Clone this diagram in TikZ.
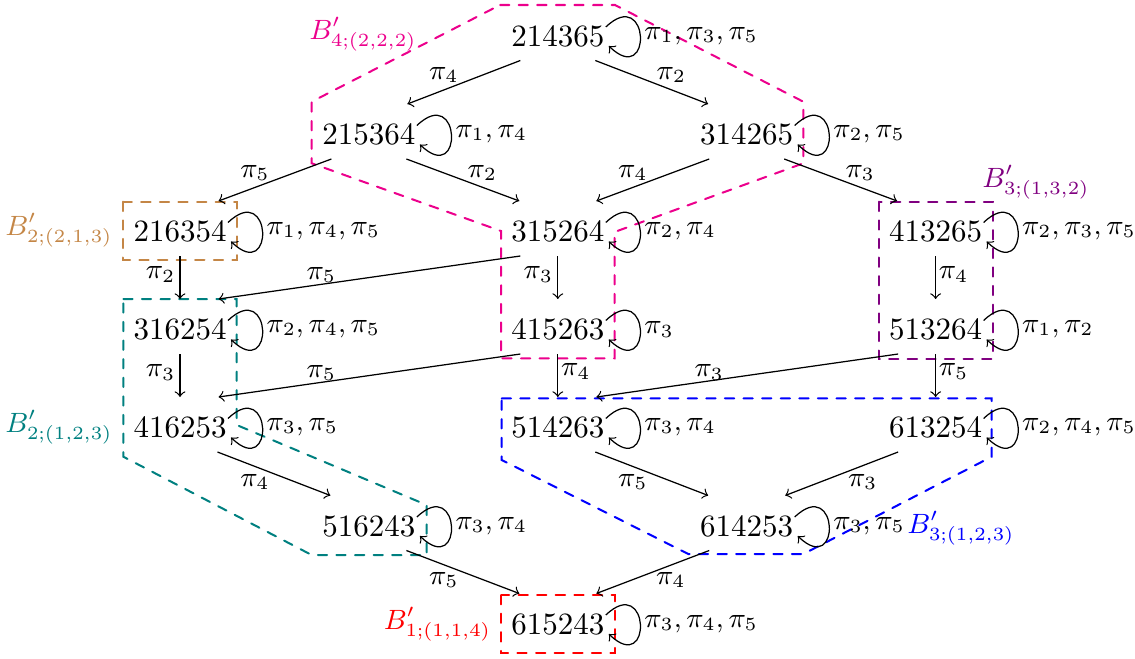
\documentclass[tikz,border=0pt]{standalone}
\definecolor{pinkc}{RGB}{236,0,140}
\definecolor{brownc}{RGB}{196,134,70}
\definecolor{tealc}{RGB}{0,128,128}
\definecolor{violetc}{RGB}{128,0,128}
\definecolor{bluec}{RGB}{0,0,255}
\definecolor{redc}{RGB}{255,0,0}
\newcommand\permloop[2]{%
  \draw[loopc] ([shift={(48,-9)}]#1.center) .. controls +(44,-42) and +(44,42) .. ([shift={(51,10)}]#1.center);
  \node[looplab] (#1lab) at ([shift={(86,0)}]#1.center) {$#2$};}
\begin{document}
\begin{tikzpicture}[x=0.3226pt,y=-0.3226pt,
  perm/.style={inner sep=0pt},
  arr/.style={->},
  loopc/.style={->},
  lbl/.style={font=\small, inner sep=0pt},
  looplab/.style={font=\small, inner sep=0pt, anchor=west},
  blk/.style={dashed, line width=0.65pt, line cap=round},
  blab/.style={inner sep=0pt, font=\small}]
\useasboundingbox (0,0) rectangle (1135,658);

% blocks
\draw[blk, pinkc] (500,5) -- (615,5) -- (803.3,101.7) -- (803.3,163.3) -- (614.5,232) -- (614.5,358.3) -- (501,358.3) -- (501,231) -- (311.7,163.3) -- (311.7,101.7) -- cycle;
\draw[blk, brownc] (123.3,201.7) rectangle (236.7,260);
\draw[blk, tealc] (123.3,299) -- (236.7,299) -- (236.7,425) -- (426.7,505) -- (426.7,555) -- (311.7,555) -- (123.3,456.7) -- cycle;
\draw[blk, violetc] (879,201.7) rectangle (992.7,359);
\draw[blk, bluec] (501.7,398.3) -- (991.7,398.3) -- (991.7,456.7) -- (803.3,554) -- (688.3,554) -- (501.7,460) -- cycle;
\draw[blk, redc] (501,595) rectangle (614.5,653);

\node[blab, text=pinkc] (bA) at (363,34) {$B'_{4;(2,2,2)}$};
\node[blab, text=brownc] (bD) at (59,230) {$B'_{2;(2,1,3)}$};
\node[blab, text=tealc] (bJ) at (59,427) {$B'_{2;(1,2,3)}$};
\node[blab, text=violetc] (bF) at (1036,182) {$B'_{3;(1,3,2)}$};
\node[blab, text=bluec] (bN) at (961,528) {$B'_{3;(1,2,3)}$};
\node[blab, text=redc] (bO) at (437.5,624) {$B'_{1;(1,1,4)}$};

% permutations
\node[perm] (A) at (557.8,36) {214365};
\node[perm] (B) at (368.9,134.5) {215364};
\node[perm] (C) at (746.7,134.5) {314265};
\node[perm] (D) at (180,231.5) {216354};
\node[perm] (E) at (557.8,231.5) {315264};
\node[perm] (F) at (935.6,231.5) {413265};
\node[perm] (G) at (180,329.5) {316254};
\node[perm] (H) at (557.8,329.5) {415263};
\node[perm] (I) at (935.6,329.5) {513264};
\node[perm] (J) at (180,427.5) {416253};
\node[perm] (K) at (557.8,427.5) {514263};
\node[perm] (L) at (935.6,427.5) {613254};
\node[perm] (M) at (368.9,526) {516243};
\node[perm] (N) at (746.7,526) {614253};
\node[perm] (O) at (557.8,624) {615243};

% loops
\permloop{A}{\pi_1,\pi_3,\pi_5}
\permloop{B}{\pi_1,\pi_4}
\permloop{C}{\pi_2,\pi_5}
\permloop{D}{\pi_1,\pi_4,\pi_5}
\permloop{E}{\pi_2,\pi_4}
\permloop{F}{\pi_2,\pi_3,\pi_5}
\permloop{G}{\pi_2,\pi_4,\pi_5}
\permloop{H}{\pi_3}
\permloop{I}{\pi_1,\pi_2}
\permloop{J}{\pi_3,\pi_5}
\permloop{K}{\pi_3,\pi_4}
\permloop{L}{\pi_2,\pi_4,\pi_5}
\permloop{M}{\pi_3,\pi_4}
\permloop{N}{\pi_3,\pi_5}
\permloop{O}{\pi_3,\pi_4,\pi_5}

% edges
\draw[arr] ([shift={(-37.5,24.5)}]A.center) -- node[lbl,shift={(-20,-7)}] (lAB) {$\pi_4$} ([shift={(38.5,-30.5)}]B.center);
\draw[arr] ([shift={(37.5,24.5)}]A.center) -- node[lbl,shift={(19.5,-7)}] (lAC) {$\pi_2$} ([shift={(-38.5,-30.5)}]C.center);
\draw[arr] ([shift={(-37.5,24.5)}]B.center) -- node[lbl,shift={(-20,-7)}] (lBD) {$\pi_5$} ([shift={(38.5,-30.5)}]D.center);
\draw[arr] ([shift={(37.5,24.5)}]B.center) -- node[lbl,shift={(19.5,-7)}] (lBE) {$\pi_2$} ([shift={(-38.5,-30.5)}]E.center);
\draw[arr] ([shift={(-37.5,24.5)}]C.center) -- node[lbl,shift={(-20,-7)}] (lCE) {$\pi_4$} ([shift={(38.5,-30.5)}]E.center);
\draw[arr] ([shift={(37.5,24.5)}]C.center) -- node[lbl,shift={(19.5,-7)}] (lCF) {$\pi_3$} ([shift={(-38.5,-30.5)}]F.center);
\draw[arr] ([shift={(0,24.5)}]D.center) -- node[lbl,shift={(-19.5,-3)}] (lDG) {$\pi_2$} ([shift={(0,-30.5)}]G.center);
\draw[arr] ([shift={(-37.5,24.5)}]E.center) -- node[lbl,shift={(-48,-2.5)}] (lEG) {$\pi_5$} ([shift={(38.5,-30.5)}]G.center);
\draw[arr] ([shift={(0,24.5)}]E.center) -- node[lbl,shift={(-19.5,-3)}] (lEH) {$\pi_3$} ([shift={(0,-30.5)}]H.center);
\draw[arr] ([shift={(0,24.5)}]F.center) -- node[lbl,shift={(18,-3)}] (lFI) {$\pi_4$} ([shift={(0,-30.5)}]I.center);
\draw[arr] ([shift={(0,24.5)}]G.center) -- node[lbl,shift={(-19.5,-3)}] (lGJ) {$\pi_3$} ([shift={(0,-30.5)}]J.center);
\draw[arr] ([shift={(-37.5,24.5)}]H.center) -- node[lbl,shift={(-48,-2.5)}] (lHJ) {$\pi_5$} ([shift={(38.5,-30.5)}]J.center);
\draw[arr] ([shift={(0,24.5)}]H.center) -- node[lbl,shift={(18,-4)}] (lHK) {$\pi_4$} ([shift={(0,-30.5)}]K.center);
\draw[arr] ([shift={(-37.5,24.5)}]I.center) -- node[lbl,shift={(-38,-3)}] (lIK) {$\pi_3$} ([shift={(38.5,-30.5)}]K.center);
\draw[arr] ([shift={(0,24.5)}]I.center) -- node[lbl,shift={(18,-4)}] (lIL) {$\pi_5$} ([shift={(0,-30.5)}]L.center);
\draw[arr] ([shift={(37.5,24.5)}]J.center) -- node[lbl,shift={(-19,8)}] (lJM) {$\pi_4$} ([shift={(-38.5,-30.5)}]M.center);
\draw[arr] ([shift={(37.5,24.5)}]K.center) -- node[lbl,shift={(-19,8)}] (lKN) {$\pi_5$} ([shift={(-38.5,-30.5)}]N.center);
\draw[arr] ([shift={(-37.5,24.5)}]L.center) -- node[lbl,shift={(21,8)}] (lLN) {$\pi_3$} ([shift={(38.5,-30.5)}]N.center);
\draw[arr] ([shift={(37.5,24.5)}]M.center) -- node[lbl,shift={(-19,8)}] (lMO) {$\pi_5$} ([shift={(-38.5,-30.5)}]O.center);
\draw[arr] ([shift={(-37.5,24.5)}]N.center) -- node[lbl,shift={(18,8)}] (lNO) {$\pi_4$} ([shift={(38.5,-30.5)}]O.center);
\end{tikzpicture}
\end{document}
